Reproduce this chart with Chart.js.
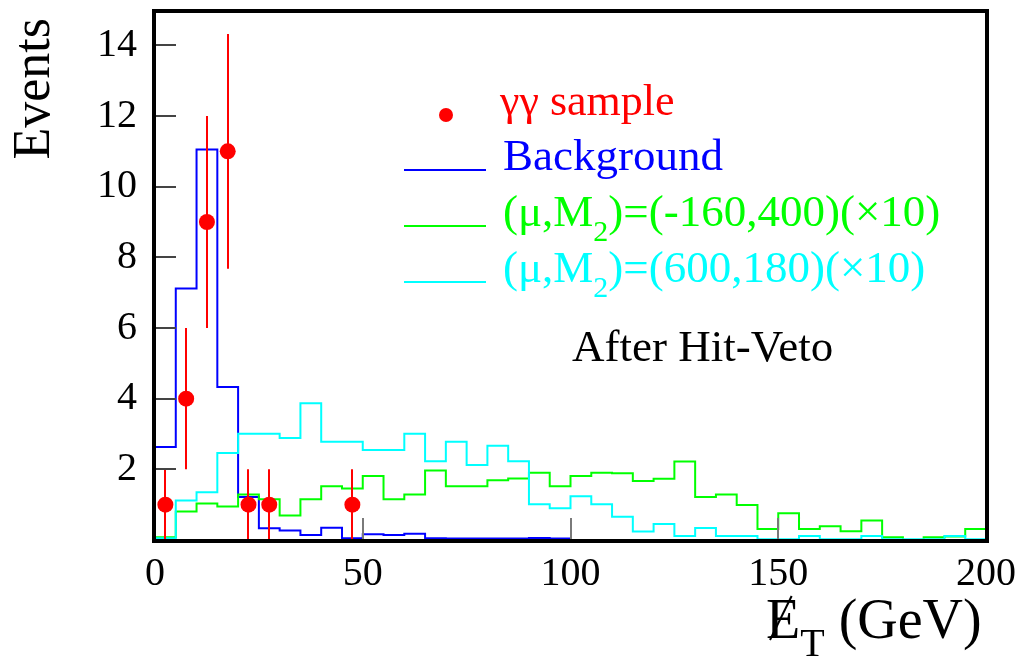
<!DOCTYPE html>
<html lang="en">
<head>
<meta charset="utf-8">
<script src="https://cdn.jsdelivr.net/npm/chart.js@4.4.1/dist/chart.umd.min.js"></script>
<style>
  html, body { margin: 0; padding: 0; background: #fff; }
  canvas { display: block; }
</style>
</head>
<body>
<canvas id="met-hist" width="1026" height="662"></canvas>
<script>
// 5 GeV bins, left edges
const binEdges = [0, 5, 10, 15, 20, 25, 30, 35, 40, 45, 50, 55, 60, 65, 70, 75, 80, 85, 90, 95,
                  100, 105, 110, 115, 120, 125, 130, 135, 140, 145, 150, 155, 160, 165, 170, 175, 180, 185, 190, 195];
const xMax = 200;

const background = [2.63, 7.12, 11.05, 4.33, 1.22, 0.33, 0.27, 0.14, 0.35, 0.05,
                    0.16, 0.14, 0.18, 0.05, 0.04, 0.04, 0.04, 0.04, 0.06, 0.04,
                    0, 0, 0, 0, 0, 0, 0, 0, 0, 0,
                    0, 0, 0, 0, 0, 0, 0, 0, 0, 0];
// (mu,M2)=(-160,400) x10
const signalGreen = [0.08, 0.81, 1.03, 0.95, 1.29, 1.15, 0.69, 1.15, 1.52, 1.46,
                     1.81, 1.15, 1.29, 1.97, 1.52, 1.52, 1.69, 1.74, 1.90, 1.52,
                     1.81, 1.90, 1.89, 1.67, 1.73, 2.22, 1.22, 1.29, 0.99, 0.31,
                     0.76, 0.31, 0.39, 0.25, 0.55, 0.08, 0.00, 0.08, 0.10, 0.31];
// (mu,M2)=(600,180) x10
const signalCyan = [0.05, 1.12, 1.35, 2.46, 3.01, 3.01, 2.89, 3.87, 2.78, 2.78,
                    2.55, 2.55, 3.01, 2.23, 2.78, 2.12, 2.67, 2.23, 1.01, 0.90,
                    1.24, 1.01, 0.66, 0.24, 0.45, 0.11, 0.34, 0.11, 0.11, 0.02,
                    0.02, 0.11, 0.02, 0.02, 0.11, 0.02, 0.02, 0.02, 0.11, 0.02];

// gamma-gamma sample
const dataX = [2.5, 7.5, 12.5, 17.5, 22.5, 27.5, 47.5];
const dataY = [1, 4, 9, 11, 1, 1, 1];
const dataErr = [1, 2, 3, 3.32, 1, 1, 1];

const xTicks = [0, 50, 100, 150, 200];
const yTicks = [2, 4, 6, 8, 10, 12, 14];

const SERIF = '"Liberation Serif", "DejaVu Serif", "Times New Roman", serif';

function histPoints(vals) {
  const pts = [{x: binEdges[0], y: 0}];
  vals.forEach((v, i) => pts.push({x: binEdges[i], y: v}));
  pts.push({x: xMax, y: vals[vals.length - 1]});
  pts.push({x: xMax, y: 0});
  return pts;
}

function histSet(vals, color, order) {
  return {
    type: 'line',
    data: histPoints(vals),
    borderColor: color,
    borderWidth: 2,
    pointRadius: 0,
    fill: false,
    stepped: 'before',
    tension: 0,
    order: order
  };
}

// draw text made of pieces (for subscripts)
function rich(ctx, x, y, parts, color) {
  ctx.fillStyle = color;
  ctx.textAlign = 'left';
  ctx.textBaseline = 'alphabetic';
  parts.forEach(p => {
    ctx.font = p[1] + 'px ' + SERIF;
    ctx.fillText(p[0], x, y + (p[2] || 0));
    x += ctx.measureText(p[0]).width;
  });
  return x;
}

const decor = {
  id: 'decor',
  beforeDatasetDraw(chart, args) {
    if (args.index !== 3) return;
    const {ctx, scales: {x, y}} = chart;
    ctx.save();
    ctx.strokeStyle = '#ff0000';
    ctx.lineWidth = 2;
    dataX.forEach((v, i) => {
      const px = Math.round(x.getPixelForValue(v));
      ctx.beginPath();
      ctx.moveTo(px, y.getPixelForValue(dataY[i] - dataErr[i]));
      ctx.lineTo(px, y.getPixelForValue(dataY[i] + dataErr[i]));
      ctx.stroke();
    });
    ctx.restore();
  },
  afterDraw(chart) {
    const {ctx, chartArea: a, scales: {x, y}} = chart;
    ctx.save();

    // inner tick marks
    ctx.lineWidth = 2;
    ctx.strokeStyle = '#7a7a7a';
    x.ticks.forEach(t => {
      const px = Math.round(x.getPixelForValue(t.value));
      ctx.beginPath();
      ctx.moveTo(px, a.bottom);
      ctx.lineTo(px, a.bottom - 22);
      ctx.stroke();
    });
    ctx.strokeStyle = '#444';
    y.ticks.forEach(t => {
      const py = Math.round(y.getPixelForValue(t.value));
      ctx.beginPath();
      ctx.moveTo(a.left, py);
      ctx.lineTo(a.left + 21, py);
      ctx.stroke();
    });

    // frame
    ctx.strokeStyle = '#000';
    ctx.lineWidth = 4;
    ctx.strokeRect(a.left - 1, a.top + 1, a.right - a.left + 2, a.bottom - a.top);

    // y title
    ctx.save();
    ctx.translate(49, 18);
    ctx.rotate(-Math.PI / 2);
    ctx.font = '52px ' + SERIF;
    ctx.fillStyle = '#000';
    ctx.textAlign = 'right';
    ctx.textBaseline = 'alphabetic';
    ctx.fillText('Events', 0, 0);
    ctx.restore();

    // x title: missing E_T (GeV)
    const ex = 766, ey = 638;
    ctx.font = '56px ' + SERIF;
    const eW = ctx.measureText('E').width;
    rich(ctx, ex, ey, [['E', 56], ['T', 40, 18], [' (GeV)', 56]], '#000');
    ctx.strokeStyle = '#000';
    ctx.lineWidth = 2;
    ctx.beginPath();
    ctx.moveTo(ex + 4, ey + 2);
    ctx.lineTo(ex + eW * 0.75, ey - 42);
    ctx.stroke();

    // legend
    ctx.fillStyle = '#ff0000';
    ctx.beginPath();
    ctx.arc(446, 115, 7, 0, Math.PI * 2);
    ctx.fill();
    rich(ctx, 500, 115, [['γγ sample', 44]], '#ff0000');

    const entries = [
      {color: '#0000ff', y: 170, parts: [['Background', 45]]},
      {color: '#00ff00', y: 226, parts: [['(μ,M', 45], ['2', 30, 15], [')=(-160,400)(×10)', 45]]},
      {color: '#00ffff', y: 282, parts: [['(μ,M', 45], ['2', 30, 15], [')=(600,180)(×10)', 45]]}
    ];
    entries.forEach(e => {
      ctx.strokeStyle = e.color;
      ctx.lineWidth = 2;
      ctx.beginPath();
      ctx.moveTo(404, e.y);
      ctx.lineTo(486, e.y);
      ctx.stroke();
      rich(ctx, 503, e.y, e.parts, e.color);
    });

    rich(ctx, 572, 361, [['After Hit-Veto', 45]], '#000');
    ctx.restore();
  }
};

new Chart(document.getElementById('met-hist'), {
  type: 'scatter',
  data: {
    datasets: [
      histSet(background, '#0000ff', 3),
      histSet(signalGreen, '#00ff00', 2),
      histSet(signalCyan, '#00ffff', 1),
      {
        type: 'scatter',
        data: dataX.map((v, i) => ({x: v, y: dataY[i]})),
        pointRadius: 8,
        pointBackgroundColor: '#ff0000',
        pointBorderWidth: 0,
        order: 0
      }
    ]
  },
  options: {
    responsive: false,
    animation: false,
    devicePixelRatio: 1,
    layout: {padding: {left: 0, top: 10, right: 40, bottom: 0}},
    plugins: {legend: {display: false}, tooltip: {enabled: false}},
    scales: {
      x: {
        type: 'linear',
        min: 0,
        max: xMax,
        afterBuildTicks: s => { s.ticks = xTicks.map(v => ({value: v})); },
        afterFit: s => { s.height = 122; s.paddingLeft = 0; s.paddingRight = 0; },
        grid: {display: false, drawTicks: false},
        border: {display: false},
        ticks: {
          color: '#000',
          padding: 10,
          maxRotation: 0,
          font: {family: SERIF, size: 40}
        }
      },
      y: {
        type: 'linear',
        min: 0,
        max: 15,
        afterBuildTicks: s => { s.ticks = yTicks.map(v => ({value: v})); },
        afterFit: s => { s.width = 155; s.paddingTop = 0; s.paddingBottom = 0; },
        grid: {display: false, drawTicks: false},
        border: {display: false},
        ticks: {
          color: '#000',
          padding: 18,
          font: {family: SERIF, size: 40}
        }
      }
    }
  },
  plugins: [decor]
});
</script>
</body>
</html>
